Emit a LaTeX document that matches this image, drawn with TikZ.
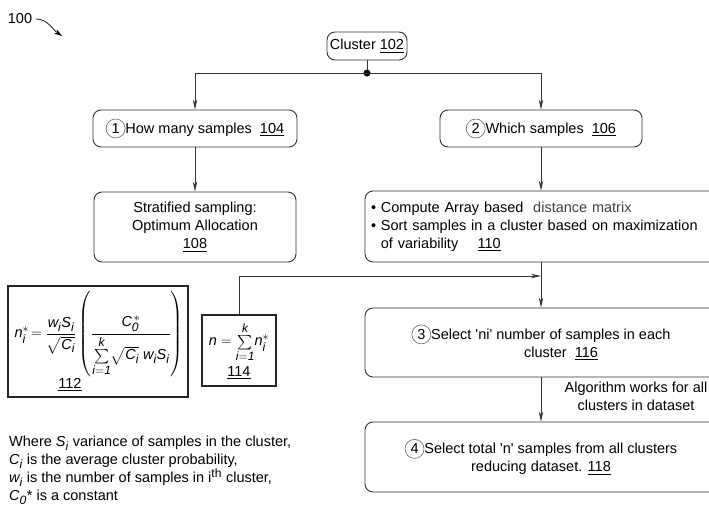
\documentclass[tikz,border=0pt]{standalone}
\usepackage{fontspec}
\setmainfont{Liberation Sans}
\usepackage{amsmath}
\usepackage[italic]{mathastext}
\usetikzlibrary{calc,arrows.meta}

\newcommand{\stepnum}[1]{\tikz[baseline=(num.base)]\node[circle,draw=black!60,line width=0.6pt,minimum size=19pt,inner sep=0pt](num){#1};}
\newcommand{\idig}[1]{\textit{#1}}

\begin{document}
\begin{tikzpicture}[x=1pt,y=-1pt,font=\fontsize{14.5}{18}\selectfont,
    box/.style={draw=black!80,line width=0.9pt,rounded corners=8pt,align=center,inner sep=0pt},
    formbox/.style={draw=black!85,line width=1.1pt,inner sep=0pt},
    link/.style={draw=black!80,line width=0.9pt,-{Stealth[length=10pt,width=4.5pt]}}]
    \useasboundingbox (0,0) rectangle (709,507);

    % Important coordinates are defined
    \coordinate (split) at (367,73);
    \coordinate (merge) at (541,276);
    \coordinate (figtip) at (62,36);

    \node (figlabel) at (20,19) {100};
    \draw[-{Stealth[length=8pt,width=5pt]},line width=0.7pt] (figlabel.east) to[out=0,in=145] (figtip);

    \node[box,minimum width=80,minimum height=28] (cluster) at (367,46) {Cluster \underline{102}};
    \node[box,minimum width=204,minimum height=37] (howmany) at (195,128.5)
        {\stepnum{1}How many samples \ \underline{104}};
    \node[box,minimum width=202,minimum height=37] (which) at (541,128.5)
        {\stepnum{2}Which samples \ \underline{106}};
    \node[box,minimum width=202,minimum height=70] (strat) at (195,227)
        {Stratified sampling:\\Optimum Allocation\\\underline{108}};
    \node[box,text width=340,inner xsep=6,minimum height=71,align=left] (sortbox) at (541,226.5)
        {\textbullet\ Compute Array based \ {\color{black!75}distance matrix}\\
         \textbullet\ Sort samples in a cluster based on maximization\\
         \phantom{\textbullet\ }of variability \quad \underline{110}};
    \node[box,minimum width=352,minimum height=69] (select) at (541,342.5)
        {\stepnum{3}Select \textquotesingle ni\textquotesingle\ number of samples in each\\
         \hspace{40pt}cluster \ \underline{116}};
    \node[box,minimum width=352,minimum height=70] (total) at (541,457)
        {\stepnum{4}Select total \textquotesingle n\textquotesingle\ samples from all clusters\\
         reducing dataset. \underline{118}};

    % formula boxes
    \node[formbox,minimum width=180,minimum height=111] (alloc) at (98,341.5) {};
    \node (allocform) at (99,334)
        {$n_i^{*}\!= \dfrac{w_iS_i}{\sqrt{C_i}}\left(\rule[-38pt]{0pt}{84pt}\dfrac{C_{\idig{0}}^{\,*}}{\sum\limits_{i=\idig{1}}^{k}\!\sqrt{C_i}\;w_iS_i}\right)$};
    \node (allocnum) at (70,385) {\underline{112}};
    \node[formbox,minimum width=74,minimum height=71,align=center] (sum) at (239,350.5)
        {$n=\sum\limits_{i=\idig{1}}^{k}\!n_i^{*}$\\[3pt]\underline{114}};

    \node[align=center] (loop) at (636,396) {Algorithm works for all\\clusters in dataset};
    \node[anchor=north west,align=left,inner sep=0pt] (legend) at (9,436)
        {Where $S_i$ variance of samples in the cluster,\\
         $C_i$ is the average cluster probability,\\
         $w_i$ is the number of samples in i\textsuperscript{th} cluster,\\
         $C_{\idig{0}}$* is a constant};

    % connectors
    \draw[line width=0.9pt,draw=black!80] (cluster.south) -- (split);
    \fill (split) circle (3.5pt);
    \draw[link] (split) -| (howmany.north);
    \draw[link] (split) -| (which.north);
    \draw[link] (howmany.south) -- (strat.north);
    \draw[link] (which.south) -- (sortbox.north);
    \draw[link] (sortbox.south) -- (select.north);
    \draw[link] (sum.north) |- (merge);
    \draw[link] (select.south) -- (total.north);
\end{tikzpicture}
\end{document}
